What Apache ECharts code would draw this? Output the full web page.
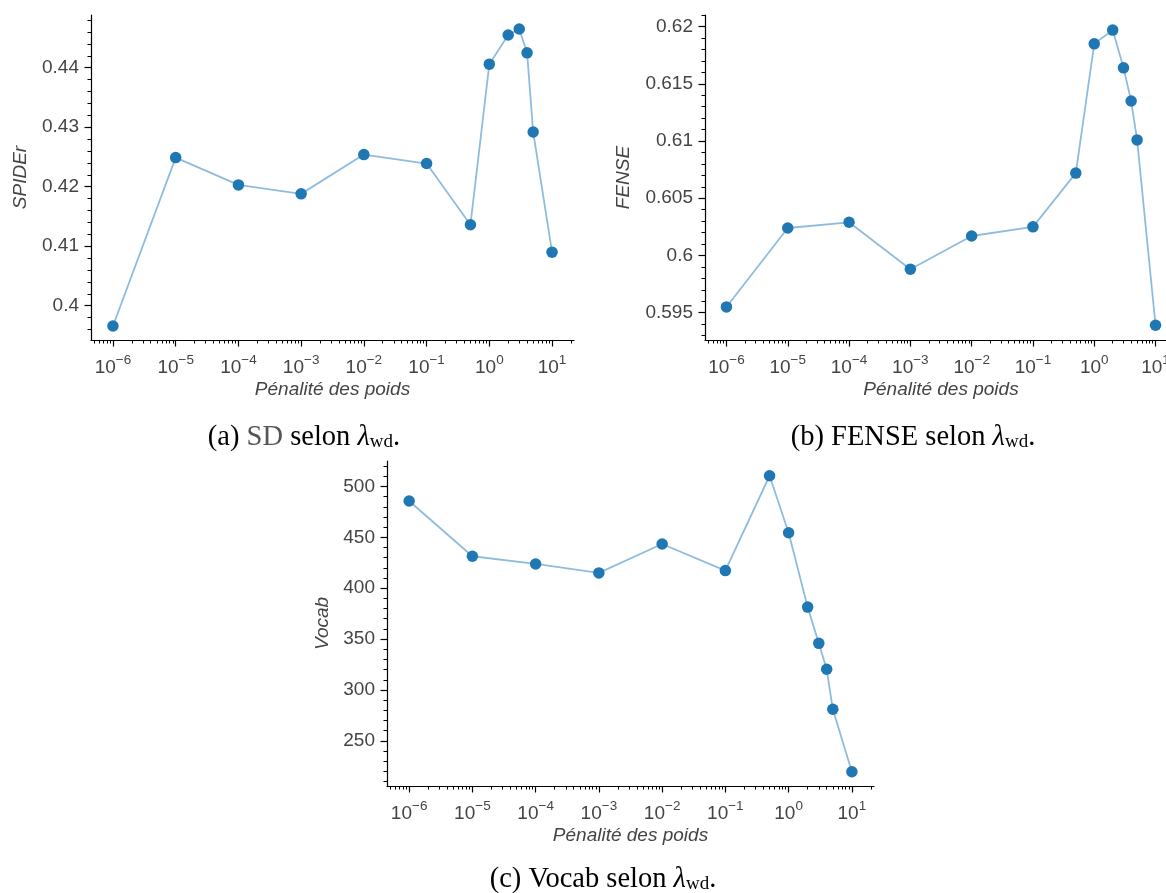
<!DOCTYPE html>
<html><head><meta charset="utf-8">
<script src="https://cdn.jsdelivr.net/npm/echarts@6/dist/echarts.min.js"></script>
<style>html,body{margin:0;padding:0;background:#fff}#c{width:1166px;height:893px}</style>
</head><body><div id="c"></div>
<script>
// ---- data ----
const lambdaValues = [1e-6, 1e-5, 1e-4, 1e-3, 1e-2, 1e-1, 0.5, 1, 2, 3, 4, 5, 10];
const spiderValues = [0.3966, 0.4249, 0.4203, 0.4188, 0.4254, 0.4239, 0.4136, 0.4406, 0.4455, 0.4465, 0.4425, 0.4292, 0.4090];
const fenseValues  = [0.5955, 0.6024, 0.6029, 0.5988, 0.6017, 0.6025, 0.6072, 0.6185, 0.6197, 0.6164, 0.6135, 0.6101, 0.5939];
const vocabValues  = [485.7, 431.4, 423.8, 415.0, 443.4, 417.3, 510.5, 454.5, 381.4, 345.8, 320.3, 281.0, 219.6];
const xTickValues  = [1e-6, 1e-5, 1e-4, 1e-3, 1e-2, 1e-1, 1, 10];
const spiderTicks  = [0.40, 0.41, 0.42, 0.43, 0.44];
const fenseTicks   = [0.595, 0.6, 0.605, 0.61, 0.615, 0.62];
const vocabTicks   = [250, 300, 350, 400, 450, 500];
const yNames = ['SPIDEr', 'FENSE', 'Vocab'];
const xName = 'Pénalité des poids';
const captionLetters = ['(a)', '(b)', '(c)'];
const captionNames = ['SD', 'FENSE', 'Vocab'];

// ---- helpers ----
const FONT = '"Liberation Sans", Arial, sans-serif';
const SERIF = '"Liberation Serif", "Times New Roman", serif';
const TXT = '#444';
const xMin = Math.pow(10, -6.35), xMax = Math.pow(10, 1.35);

function minorLog(lo, hi) {
  const out = [];
  for (let d = -8; d <= 2; d++) for (let m = 2; m <= 9; m++) {
    const v = m * Math.pow(10, d);
    if (v >= lo && v <= hi) out.push(v);
  }
  return out;
}
function minorLin(lo, hi, step, majors) {
  const out = [];
  const start = Math.ceil(lo / step - 1e-9);
  for (let k = start; k * step <= hi + 1e-12; k++) {
    const v = +(k * step).toFixed(6);
    if (!majors.some(m => Math.abs(m - v) < step / 10)) out.push(v);
  }
  return out;
}
function supLabel(v) {
  const e = Math.round(Math.log10(v));
  return '{b|10}{s|' + (e < 0 ? '\u2212' + (-e) : e) + '}';
}

const panels = [
  { left: 91,  top: 15,  width: 483, yMin: 0.39424, yMax: 0.44886, ticks: spiderTicks, minorStep: 0.002, vals: spiderValues, nameGap: 61 },
  { left: 705, top: 15,  width: 472, yMin: 0.59261, yMax: 0.62102, ticks: fenseTicks,  minorStep: 0.001, vals: fenseValues,  nameGap: 72 },
  { left: 387, top: 461, width: 487, yMin: 205.6,   yMax: 525.0,   ticks: vocabTicks,  minorStep: 10,    vals: vocabValues,  nameGap: 55 }
];

const grid = [], xAxis = [], yAxis = [], series = [];
const axisLine = { show: true, lineStyle: { color: '#000', width: 1.2 } };
panels.forEach((p, i) => {
  grid.push({ left: p.left, top: p.top, width: p.width, height: 325, containLabel: false, outerBoundsMode: 'none' });
  const xMinor = minorLog(xMin, xMax);
  xAxis.push({
    type: 'log', logBase: 10, gridIndex: i, min: xMin, max: xMax, position: 'bottom',
    axisLine: axisLine, splitLine: { show: false },
    axisTick: { show: true, length: 6.5, lineStyle: { color: '#000', width: 1.2 }, customValues: xTickValues },
    axisLabel: {
      show: true, customValues: xTickValues, margin: 13, formatter: supLabel,
      rich: {
        b: { fontSize: 19, fontFamily: FONT, color: TXT, lineHeight: 24, verticalAlign: 'bottom' },
        s: { fontSize: 13.5, fontFamily: FONT, color: TXT, lineHeight: 9, verticalAlign: 'top' }
      }
    },
    name: xName, nameLocation: 'middle', nameGap: 40,
    nameTextStyle: { fontSize: 19, fontStyle: 'italic', fontFamily: FONT, color: TXT }
  });
  xAxis.push({
    type: 'log', logBase: 10, gridIndex: i, min: xMin, max: xMax, position: 'bottom',
    axisLine: { show: false }, splitLine: { show: false }, axisLabel: { show: false },
    axisTick: { show: true, length: 3.5, lineStyle: { color: '#000', width: 1 }, customValues: xMinor }
  });
  yAxis.push({
    type: 'value', gridIndex: i, min: p.yMin, max: p.yMax, position: 'left',
    axisLine: axisLine, splitLine: { show: false },
    axisTick: { show: true, length: 6.5, lineStyle: { color: '#000', width: 1.2 }, customValues: p.ticks },
    axisLabel: { show: true, customValues: p.ticks, margin: 12, fontSize: 19, fontFamily: FONT, color: TXT },
    name: yNames[i], nameLocation: 'middle', nameGap: p.nameGap, nameRotate: 90,
    nameTextStyle: { fontSize: 19, fontStyle: 'italic', fontFamily: FONT, color: TXT }
  });
  yAxis.push({
    type: 'value', gridIndex: i, min: p.yMin, max: p.yMax, position: 'left',
    axisLine: { show: false }, splitLine: { show: false }, axisLabel: { show: false },
    axisTick: { show: true, length: 3.5, lineStyle: { color: '#000', width: 1 },
      customValues: minorLin(p.yMin, p.yMax, p.minorStep, p.ticks) }
  });
  series.push({
    type: 'line', xAxisIndex: 2 * i, yAxisIndex: 2 * i,
    data: lambdaValues.map((x, k) => [x, p.vals[k]]),
    symbol: 'circle', symbolSize: 11.5, showSymbol: true,
    itemStyle: { color: '#1f77b4' },
    lineStyle: { color: '#8fbcde', width: 1.8 },
    emphasis: { disabled: true }, clip: false
  });
});

const capRich = {
  t: { fontSize: 28.5, fontFamily: SERIF, fill: '#000', color: '#000', lineHeight: 36, verticalAlign: 'bottom' },
  g: { fontSize: 28.5, fontFamily: SERIF, fill: '#555', color: '#555', lineHeight: 36, verticalAlign: 'bottom' },
  l: { fontSize: 28.5, fontFamily: SERIF, fontStyle: 'italic', fill: '#000', color: '#000', lineHeight: 36, verticalAlign: 'bottom' },
  s: { fontSize: 19, fontFamily: SERIF, fill: '#000', color: '#000', lineHeight: 22, verticalAlign: 'bottom' }
};
const capPos = [[304, 434], [913, 434], [603, 876]];
const graphic = capPos.map((c, i) => ({
  type: 'text', x: c[0], y: c[1], silent: true,
  style: {
    text: '{t|' + captionLetters[i] + ' }' + (i === 0 ? '{g|' + captionNames[i] + '}' : '{t|' + captionNames[i] + '}') +
          '{t| selon }{l|\u03bb}{s|wd}{t|.}',
    rich: capRich, align: 'center', verticalAlign: 'middle'
  }
}));

const chart = echarts.init(document.getElementById('c'), null, { renderer: 'canvas' });
chart.setOption({ animation: false, grid, xAxis, yAxis, series, graphic });
</script></body></html>
